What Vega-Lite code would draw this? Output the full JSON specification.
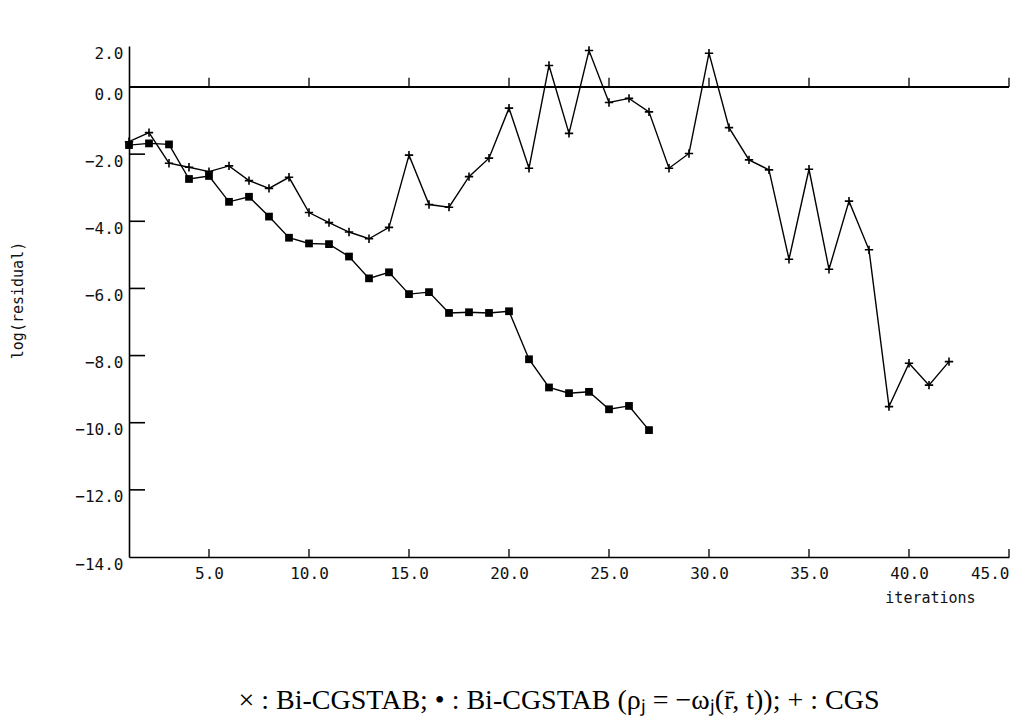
{
  "$schema": "https://vega.github.io/schema/vega-lite/v6.json",
  "autosize": "none",
  "width": 880,
  "height": 511,
  "padding": {"left": 129, "top": 46, "right": 23, "bottom": 162},
  "background": "white",
  "title": {
    "text": "× : Bi-CGSTAB; • : Bi-CGSTAB (ρⱼ = −ωⱼ(r̄, t)); + : CGS",
    "orient": "bottom",
    "anchor": "middle",
    "dx": -10,
    "offset": 82,
    "font": "Liberation Serif",
    "fontSize": 28,
    "fontWeight": "normal",
    "color": "black"
  },
  "config": {
    "view": {"stroke": null},
    "axis": {
      "grid": false,
      "ticks": false,
      "domainColor": "black",
      "domainWidth": 1.6,
      "labelFont": "DejaVu Sans Mono",
      "labelFontSize": 16,
      "labelColor": "#111",
      "titleFont": "DejaVu Sans Mono",
      "titleFontSize": 15,
      "titleFontWeight": "normal",
      "titleColor": "#111"
    }
  },
  "datasets": {
    "res": [
      {"iter": 1, "value": -1.73, "method": "Bi-CGSTAB (rho_j = -omega_j)"},
      {"iter": 2, "value": -1.68, "method": "Bi-CGSTAB (rho_j = -omega_j)"},
      {"iter": 3, "value": -1.71, "method": "Bi-CGSTAB (rho_j = -omega_j)"},
      {"iter": 4, "value": -2.74, "method": "Bi-CGSTAB (rho_j = -omega_j)"},
      {"iter": 5, "value": -2.65, "method": "Bi-CGSTAB (rho_j = -omega_j)"},
      {"iter": 6, "value": -3.42, "method": "Bi-CGSTAB (rho_j = -omega_j)"},
      {"iter": 7, "value": -3.27, "method": "Bi-CGSTAB (rho_j = -omega_j)"},
      {"iter": 8, "value": -3.86, "method": "Bi-CGSTAB (rho_j = -omega_j)"},
      {"iter": 9, "value": -4.49, "method": "Bi-CGSTAB (rho_j = -omega_j)"},
      {"iter": 10, "value": -4.66, "method": "Bi-CGSTAB (rho_j = -omega_j)"},
      {"iter": 11, "value": -4.68, "method": "Bi-CGSTAB (rho_j = -omega_j)"},
      {"iter": 12, "value": -5.05, "method": "Bi-CGSTAB (rho_j = -omega_j)"},
      {"iter": 13, "value": -5.70, "method": "Bi-CGSTAB (rho_j = -omega_j)"},
      {"iter": 14, "value": -5.52, "method": "Bi-CGSTAB (rho_j = -omega_j)"},
      {"iter": 15, "value": -6.17, "method": "Bi-CGSTAB (rho_j = -omega_j)"},
      {"iter": 16, "value": -6.11, "method": "Bi-CGSTAB (rho_j = -omega_j)"},
      {"iter": 17, "value": -6.73, "method": "Bi-CGSTAB (rho_j = -omega_j)"},
      {"iter": 18, "value": -6.71, "method": "Bi-CGSTAB (rho_j = -omega_j)"},
      {"iter": 19, "value": -6.73, "method": "Bi-CGSTAB (rho_j = -omega_j)"},
      {"iter": 20, "value": -6.68, "method": "Bi-CGSTAB (rho_j = -omega_j)"},
      {"iter": 21, "value": -8.11, "method": "Bi-CGSTAB (rho_j = -omega_j)"},
      {"iter": 22, "value": -8.95, "method": "Bi-CGSTAB (rho_j = -omega_j)"},
      {"iter": 23, "value": -9.12, "method": "Bi-CGSTAB (rho_j = -omega_j)"},
      {"iter": 24, "value": -9.08, "method": "Bi-CGSTAB (rho_j = -omega_j)"},
      {"iter": 25, "value": -9.60, "method": "Bi-CGSTAB (rho_j = -omega_j)"},
      {"iter": 26, "value": -9.50, "method": "Bi-CGSTAB (rho_j = -omega_j)"},
      {"iter": 27, "value": -10.22, "method": "Bi-CGSTAB (rho_j = -omega_j)"},
      {"iter": 1, "value": -1.63, "method": "CGS"},
      {"iter": 2, "value": -1.36, "method": "CGS"},
      {"iter": 3, "value": -2.27, "method": "CGS"},
      {"iter": 4, "value": -2.39, "method": "CGS"},
      {"iter": 5, "value": -2.52, "method": "CGS"},
      {"iter": 6, "value": -2.35, "method": "CGS"},
      {"iter": 7, "value": -2.79, "method": "CGS"},
      {"iter": 8, "value": -3.02, "method": "CGS"},
      {"iter": 9, "value": -2.69, "method": "CGS"},
      {"iter": 10, "value": -3.74, "method": "CGS"},
      {"iter": 11, "value": -4.04, "method": "CGS"},
      {"iter": 12, "value": -4.32, "method": "CGS"},
      {"iter": 13, "value": -4.52, "method": "CGS"},
      {"iter": 14, "value": -4.18, "method": "CGS"},
      {"iter": 15, "value": -2.03, "method": "CGS"},
      {"iter": 16, "value": -3.50, "method": "CGS"},
      {"iter": 17, "value": -3.58, "method": "CGS"},
      {"iter": 18, "value": -2.67, "method": "CGS"},
      {"iter": 19, "value": -2.12, "method": "CGS"},
      {"iter": 20, "value": -0.63, "method": "CGS"},
      {"iter": 21, "value": -2.42, "method": "CGS"},
      {"iter": 22, "value": 1.05, "method": "CGS"},
      {"iter": 23, "value": -1.38, "method": "CGS"},
      {"iter": 24, "value": 1.78, "method": "CGS"},
      {"iter": 25, "value": -0.46, "method": "CGS"},
      {"iter": 26, "value": -0.34, "method": "CGS"},
      {"iter": 27, "value": -0.74, "method": "CGS"},
      {"iter": 28, "value": -2.42, "method": "CGS"},
      {"iter": 29, "value": -1.98, "method": "CGS"},
      {"iter": 30, "value": 1.65, "method": "CGS"},
      {"iter": 31, "value": -1.21, "method": "CGS"},
      {"iter": 32, "value": -2.17, "method": "CGS"},
      {"iter": 33, "value": -2.47, "method": "CGS"},
      {"iter": 34, "value": -5.13, "method": "CGS"},
      {"iter": 35, "value": -2.45, "method": "CGS"},
      {"iter": 36, "value": -5.43, "method": "CGS"},
      {"iter": 37, "value": -3.40, "method": "CGS"},
      {"iter": 38, "value": -4.85, "method": "CGS"},
      {"iter": 39, "value": -9.52, "method": "CGS"},
      {"iter": 40, "value": -8.23, "method": "CGS"},
      {"iter": 41, "value": -8.88, "method": "CGS"},
      {"iter": 42, "value": -8.18, "method": "CGS"}
    ],
    "xticks": [
      {"iter": 5}, {"iter": 10}, {"iter": 15}, {"iter": 20}, {"iter": 25},
      {"iter": 30}, {"iter": 35}, {"iter": 40}, {"iter": 45}
    ],
    "yticks": [
      {"value": -2}, {"value": -4}, {"value": -6}, {"value": -8}, {"value": -10}, {"value": -12}
    ]
  },
  "layer": [
    {
      "data": {"name": "res"},
      "mark": {"type": "rule", "color": "black", "strokeWidth": 2},
      "encoding": {
        "y": {
          "datum": 0,
          "type": "quantitative",
          "scale": {"domain": [-14, 0, 2], "range": [511, 41, 0], "nice": false, "zero": false},
          "axis": {
            "title": "log(residual)",
            "titleX": -112,
            "titleY": 254,
            "titleAngle": -90,
            "titleAlign": "center",
            "titleBaseline": "middle",
            "values": [2, 0, -2, -4, -6, -8, -10, -12, -14],
            "format": ".1f",
            "labelPadding": 6,
            "labelOffset": 7
          }
        }
      }
    },
    {
      "data": {"name": "xticks"},
      "mark": {"type": "rule", "color": "black", "strokeWidth": 1.3},
      "encoding": {
        "x": {"field": "iter", "type": "quantitative"},
        "y": {"datum": 0, "type": "quantitative"},
        "y2": {"datum": 0.45}
      }
    },
    {
      "data": {"name": "xticks"},
      "mark": {"type": "rule", "color": "black", "strokeWidth": 1.3},
      "encoding": {
        "x": {"field": "iter", "type": "quantitative"},
        "y": {"datum": -14, "type": "quantitative"},
        "y2": {"datum": -13.76}
      }
    },
    {
      "data": {"name": "yticks"},
      "mark": {"type": "rule", "color": "black", "strokeWidth": 1.6},
      "encoding": {
        "x": {"datum": 1, "type": "quantitative"},
        "x2": {"datum": 1.8},
        "y": {"field": "value", "type": "quantitative"}
      }
    },
    {
      "data": {"name": "res"},
      "mark": {"type": "line", "color": "black", "strokeWidth": 1.4},
      "encoding": {
        "x": {
          "field": "iter",
          "type": "quantitative",
          "scale": {"domain": [1, 45], "nice": false, "zero": false},
          "axis": {
            "title": "iterations",
            "titleX": 801,
            "titleY": 40,
            "titleAlign": "center",
            "titleBaseline": "middle",
            "values": [5, 10, 15, 20, 25, 30, 35, 40, 45],
            "format": ".1f",
            "labelPadding": 8
          }
        },
        "y": {"field": "value", "type": "quantitative"},
        "detail": {"field": "method"}
      }
    },
    {
      "data": {"name": "res"},
      "transform": [{"filter": "datum.method !== 'CGS'"}],
      "mark": {"type": "point", "shape": "square", "filled": true, "color": "black", "size": 60, "opacity": 1},
      "encoding": {
        "x": {"field": "iter", "type": "quantitative"},
        "y": {"field": "value", "type": "quantitative"}
      }
    },
    {
      "data": {"name": "res"},
      "transform": [{"filter": "datum.method === 'CGS'"}],
      "mark": {"type": "point", "shape": "M-1,0H1M0,-1V1", "filled": false, "color": "black", "strokeWidth": 1.6, "size": 70, "opacity": 1},
      "encoding": {
        "x": {"field": "iter", "type": "quantitative"},
        "y": {"field": "value", "type": "quantitative"}
      }
    }
  ]
}
